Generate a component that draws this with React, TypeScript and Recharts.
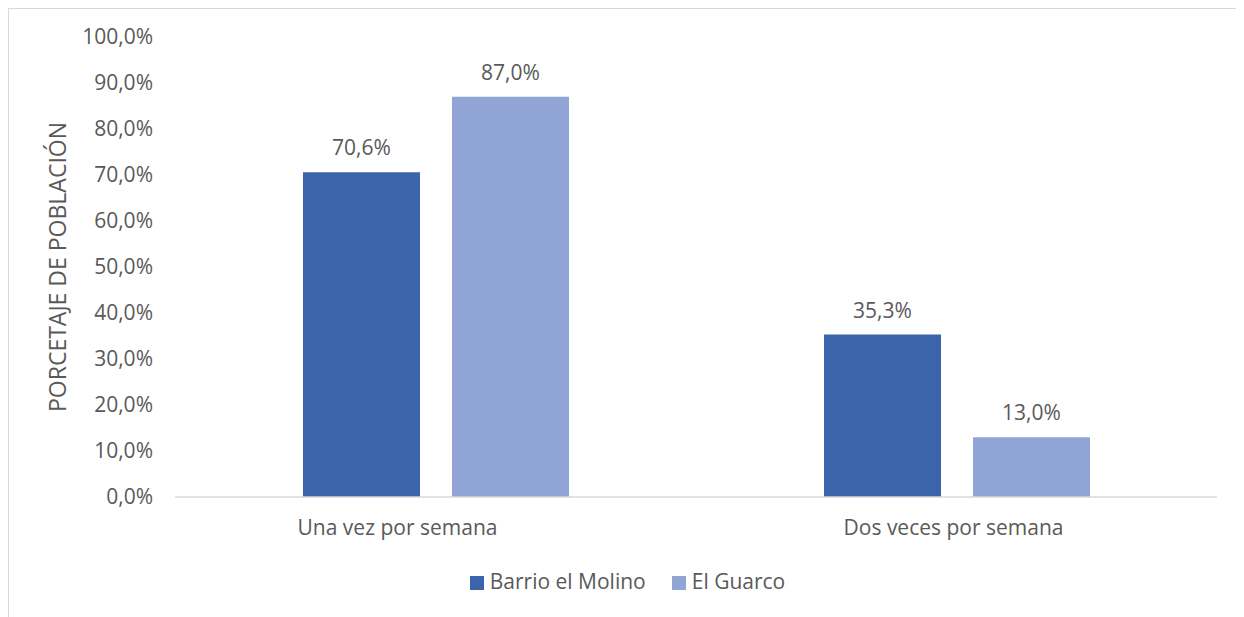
import React from "react";
import { BarChart, Bar, XAxis, YAxis, Legend, LabelList } from "recharts";

const categories = ["Una vez por semana", "Dos veces por semana"];
const molino = [70.6, 35.3];
const guarco = [87.0, 13.0];
const yTicks = [0, 10, 20, 30, 40, 50, 60, 70, 80, 90, 100];

const data = categories.map((name, i) => ({
  name,
  molino: molino[i],
  guarco: guarco[i],
}));

const FONT = "'Open Sans', sans-serif";
const TEXT = "#595959";
const fmt = (v: number) => v.toFixed(1).replace(".", ",") + "%";

// category labels in the original sit a little left of the group centre
const CatTick = (props: any) => {
  const { x, y, payload, index } = props;
  const dx = index === 0 ? -38 : -3;
  return (
    <text
      x={x + dx}
      y={y}
      dy="0.71em"
      textAnchor="middle"
      fill={TEXT}
      fontSize={21}
      fontFamily={FONT}
    >
      {payload.value}
    </text>
  );
};

const App: React.FC = () => {
  return (
    <div style={{ position: "relative", width: 1236, height: 609, fontFamily: FONT }}>
      <div
        style={{
          position: "absolute",
          left: -1,
          top: -1,
          width: 1240,
          height: 620,
          borderTop: "2px solid #d9d9d9",
          borderLeft: "2px solid #d9d9d9",
          boxSizing: "border-box",
        }}
      />
      <BarChart
        width={1236}
        height={609}
        data={data}
        margin={{ top: 29, right: 27, bottom: 30, left: 0 }}
        barGap={32}
        barSize={117}
      >
        <XAxis
          dataKey="name"
          axisLine={{ stroke: "#d9d9d9", strokeWidth: 1.5 }}
          tickLine={false}
          tick={<CatTick />}
          tickMargin={17}
          height={62}
        />
        <YAxis
          domain={[0, 100]}
          ticks={yTicks}
          tickFormatter={fmt}
          axisLine={false}
          tickLine={false}
          tickSize={0}
          tickMargin={22}
          width={167}
          tick={{ fill: TEXT, fontSize: 21, fontFamily: FONT }}
          label={{
            value: "PORCETAJE DE POBLACIÓN",
            angle: -90,
            position: "insideLeft",
            offset: 50,
            style: { fill: TEXT, fontSize: 23, fontFamily: FONT, textAnchor: "middle" },
          }}
        />
        <Legend
          verticalAlign="bottom"
          iconType="square"
          iconSize={14}
          wrapperStyle={{ left: 28, bottom: 22, fontSize: 21, fontFamily: FONT, color: TEXT }}
          formatter={(v: string) => (
            <span style={{ color: TEXT, marginLeft: 2, marginRight: 16 }}>{v}</span>
          )}
        />
        <Bar dataKey="molino" name="Barrio el Molino" fill="#3C64AD" isAnimationActive={false}>
          <LabelList
            dataKey="molino"
            position="top"
            offset={17}
            formatter={(v: any) => fmt(Number(v))}
            style={{ fill: TEXT, fontSize: 21, fontFamily: FONT }}
          />
        </Bar>
        <Bar dataKey="guarco" name="El Guarco" fill="#90A5D5" isAnimationActive={false}>
          <LabelList
            dataKey="guarco"
            position="top"
            offset={17}
            formatter={(v: any) => fmt(Number(v))}
            style={{ fill: TEXT, fontSize: 21, fontFamily: FONT }}
          />
        </Bar>
      </BarChart>
    </div>
  );
};

export default App;
